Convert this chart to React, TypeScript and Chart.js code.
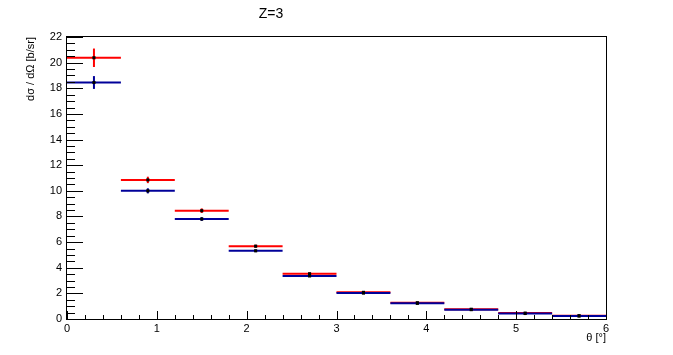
import React, { useEffect, useRef } from 'react';
import { Chart, registerables } from 'chart.js';

Chart.register(...registerables);

const chartTitle = 'Z=3';
const xAxisTitle = 'θ [°]';
const yAxisTitle = 'dσ / dΩ [b/sr]';

const binEdges = [0, 0.6, 1.2, 1.8, 2.4, 3.0, 3.6, 4.2, 4.8, 5.4, 6.0];
const binCenters = [0.3, 0.9, 1.5, 2.1, 2.7, 3.3, 3.9, 4.5, 5.1, 5.7];

const redValues = [20.38, 10.85, 8.45, 5.68, 3.53, 2.08, 1.27, 0.76, 0.46, 0.26];
const redErrors = [0.72, 0.25, 0.18, 0.12, 0.1, 0.06, 0.04, 0.03, 0.02, 0.02];
const blueValues = [18.45, 10.0, 7.8, 5.32, 3.36, 2.02, 1.22, 0.73, 0.43, 0.23];
const blueErrors = [0.5, 0.2, 0.15, 0.1, 0.08, 0.05, 0.04, 0.03, 0.02, 0.02];

const xTicks = [0, 1, 2, 3, 4, 5, 6];
const yTicks = [0, 2, 4, 6, 8, 10, 12, 14, 16, 18, 20, 22];

const RED = '#ff0000';
const BLUE = '#000099';
const FONT = "'Liberation Sans', Arial, Helvetica, sans-serif";

function segments(values: number[]) {
  const pts: { x: number; y: number | null }[] = [];
  values.forEach((v, i) => {
    pts.push({ x: binEdges[i], y: v });
    pts.push({ x: binEdges[i + 1], y: v });
    pts.push({ x: binEdges[i + 1], y: null });
  });
  return pts;
}

function markers(values: number[]) {
  return values.map((v, i) => ({ x: binCenters[i], y: v }));
}

const errorBarPlugin = {
  id: 'errorBars',
  afterDatasetDraw(chart: any, args: any) {
    const ds = chart.data.datasets[args.index];
    if (!ds.errors) return;
    const { ctx, scales } = chart;
    const xs = scales.x;
    const ys = scales.y;
    ctx.save();
    ctx.strokeStyle = ds.borderColor;
    ctx.lineWidth = 2;
    ds.values.forEach((v: number, i: number) => {
      const px = xs.getPixelForValue(binCenters[i]);
      ctx.beginPath();
      ctx.moveTo(px, ys.getPixelForValue(v - ds.errors[i]));
      ctx.lineTo(px, ys.getPixelForValue(v + ds.errors[i]));
      ctx.stroke();
    });
    ctx.restore();
  },
};

const framePlugin = {
  id: 'rootFrame',
  afterDraw(chart: any) {
    const { ctx, chartArea, scales } = chart;
    const xs = scales.x;
    const ys = scales.y;
    const L = chartArea.left;
    const R = chartArea.right;
    const T = chartArea.top;
    const B = chartArea.bottom;
    ctx.save();
    ctx.strokeStyle = '#000';
    ctx.lineWidth = 1;
    ctx.strokeRect(Math.round(L) - 0.5, Math.round(T) - 0.5, Math.round(R - L) + 1, Math.round(B - T) + 1);
    // y ticks
    const yMajorLen = 16;
    const yMinorLen = 8;
    ctx.beginPath();
    for (let k = 0; k <= 44; k++) {
      const v = k * 0.5;
      const py = Math.round(ys.getPixelForValue(v)) + 0.5;
      const len = k % 4 === 0 ? yMajorLen : yMinorLen;
      ctx.moveTo(L, py);
      ctx.lineTo(L + len, py);
    }
    // x ticks
    const xMajorLen = 8;
    const xMinorLen = 4;
    for (let k = 0; k <= 30; k++) {
      const v = k * 0.2;
      const px = Math.round(xs.getPixelForValue(v)) + 0.5;
      const len = k % 5 === 0 ? xMajorLen : xMinorLen;
      ctx.moveTo(px, B);
      ctx.lineTo(px, B - len);
    }
    ctx.stroke();
    // title
    ctx.fillStyle = '#000';
    ctx.font = `14px ${FONT}`;
    ctx.textAlign = 'center';
    ctx.textBaseline = 'middle';
    ctx.fillText(chartTitle, 271, 14);
    ctx.restore();
  },
};

export default function App() {
  const ref = useRef<HTMLCanvasElement | null>(null);
  useEffect(() => {
    if (!ref.current) return;
    const chart = new Chart(ref.current, {
      type: 'line',
      data: {
        datasets: [
          {
            label: 'blue markers',
            data: markers(blueValues),
            showLine: false,
            pointStyle: 'rect',
            pointRadius: 2.2,
            pointBorderWidth: 0,
            pointBackgroundColor: '#000',
            borderColor: '#000',
            order: 1,
          } as any,
          {
            label: 'blue',
            data: segments(blueValues),
            borderColor: BLUE,
            borderWidth: 2,
            pointRadius: 0,
            spanGaps: false,
            values: blueValues,
            errors: blueErrors,
            order: 2,
          } as any,
          {
            label: 'red markers',
            data: markers(redValues),
            showLine: false,
            pointStyle: 'rect',
            pointRadius: 2.2,
            pointBorderWidth: 0,
            pointBackgroundColor: '#000',
            borderColor: '#000',
            order: 3,
          } as any,
          {
            label: 'red',
            data: segments(redValues),
            borderColor: RED,
            borderWidth: 2,
            pointRadius: 0,
            spanGaps: false,
            values: redValues,
            errors: redErrors,
            order: 4,
          } as any,
        ],
      },
      options: {
        responsive: false,
        animation: false,
        devicePixelRatio: 1,
        layout: { padding: { left: 0, right: 67, top: 37, bottom: 0 } },
        plugins: {
          legend: { display: false },
          tooltip: { enabled: false },
          title: { display: false },
        },
        scales: {
          x: {
            type: 'linear',
            min: 0,
            max: 6,
            afterBuildTicks: (s: any) => {
              s.ticks = xTicks.map((v) => ({ value: v }));
            },
            afterFit: (s: any) => {
              s.height = 36;
            },
            grid: { display: false, drawTicks: false },
            border: { display: false },
            ticks: {
              padding: 3,
              color: '#000',
              font: { family: FONT, size: 11 },
              maxRotation: 0,
              autoSkip: false,
            },
            title: {
              display: true,
              text: xAxisTitle,
              align: 'end',
              color: '#000',
              font: { family: FONT, size: 11 },
              padding: { top: 0, bottom: 10 },
            },
          },
          y: {
            type: 'linear',
            min: 0,
            max: 22,
            afterBuildTicks: (s: any) => {
              s.ticks = yTicks.map((v) => ({ value: v }));
            },
            afterFit: (s: any) => {
              s.width = 67;
            },
            grid: { display: false, drawTicks: false },
            border: { display: false },
            ticks: {
              padding: 5,
              color: '#000',
              font: { family: FONT, size: 11 },
              autoSkip: false,
            },
            title: {
              display: true,
              text: yAxisTitle,
              align: 'end',
              color: '#000',
              font: { family: FONT, size: 11 },
              padding: { top: 24, bottom: 0 },
            },
          },
        },
      } as any,
      plugins: [errorBarPlugin, framePlugin],
    });
    return () => chart.destroy();
  }, []);

  return (
    <div style={{ position: 'fixed', left: 0, top: 0, width: 673, height: 355, background: '#fff' }}>
      <canvas ref={ref} width={673} height={355} style={{ display: 'block' }} />
    </div>
  );
}
